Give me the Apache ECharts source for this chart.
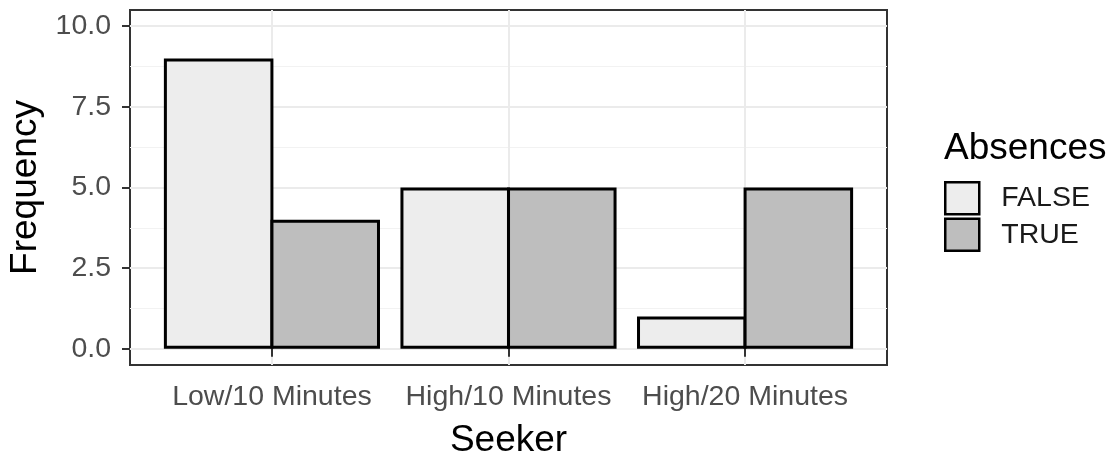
<!DOCTYPE html>
<html>
<head>
<meta charset="utf-8">
<script src="https://cdn.jsdelivr.net/npm/echarts@6/dist/echarts.min.js"></script>
<style>
  html, body { margin: 0; padding: 0; background: #fff; }
  #chart { width: 1115px; height: 458px; }
</style>
</head>
<body>
<div id="chart"></div>
<script>
var categories = ['Low/10 Minutes', 'High/10 Minutes', 'High/20 Minutes']
var falseValues = [9, 5, 1]
var trueValues = [4, 5, 5]
var yTicks = [0, 2.5, 5, 7.5, 10]
var yMinorTicks = [1.25, 3.75, 6.25, 8.75]
var xTicks = [1, 2, 3]

var font = 'Liberation Sans'

function toPoints(values) {
  return values.map(function (v, i) { return [xTicks[i], v] })
}

var chart = echarts.init(document.getElementById('chart'))
var option = {
  animation: false,
  textStyle: { fontFamily: font },
  title: {
    text: 'Absences',
    left: 944,
    top: 130,
    padding: 0,
    textStyle: { fontFamily: font, fontSize: 37, fontWeight: 'normal', color: '#000' }
  },
  legend: {
    data: ['FALSE', 'TRUE'],
    orient: 'vertical',
    left: 944,
    top: 181,
    padding: 0,
    itemWidth: 34,
    itemHeight: 32,
    itemGap: 2,
    icon: 'rect',
    itemStyle: { borderColor: '#000', borderWidth: 2.5 },
    textStyle: { fontFamily: font, fontSize: 28.5, color: '#1a1a1a', padding: [4, 0, 0, 17] }
  },
  grid: {
    left: 130,
    right: 228,
    top: 10,
    bottom: 93,
    outerBoundsMode: 'none',
    containLabel: false,
    show: true,
    borderColor: '#333',
    borderWidth: 2,
    backgroundColor: '#fff'
  },
  xAxis: {
    type: 'value',
    min: 0.4,
    max: 3.6,
    name: 'Seeker',
    nameLocation: 'middle',
    nameGap: 57,
    nameTextStyle: { fontFamily: font, fontSize: 37, color: '#000' },
    axisLine: { show: false },
    axisTick: { show: true, length: 8, customValues: xTicks, lineStyle: { color: '#333', width: 2 } },
    axisLabel: {
      customValues: xTicks,
      margin: 18,
      fontSize: 28.5,
      color: '#4d4d4d',
      formatter: function (v) { return categories[Math.round(v) - 1] }
    },
    splitLine: { show: true, lineStyle: { color: '#ebebeb', width: 2 } }
  },
  yAxis: [
    {
      type: 'value',
      min: -0.5,
      max: 10.5,
      name: 'Frequency',
      nameLocation: 'middle',
      nameRotate: 90,
      nameGap: 85,
      nameTextStyle: { fontFamily: font, fontSize: 37, color: '#000' },
      axisLine: { show: false },
      axisTick: { show: true, length: 8, customValues: yTicks, lineStyle: { color: '#333', width: 2 } },
      axisLabel: {
        customValues: yTicks,
        margin: 19,
        fontSize: 28.5,
        color: '#4d4d4d',
        formatter: function (v) { return v.toFixed(1) }
      },
      splitLine: { show: true, lineStyle: { color: '#ebebeb', width: 2 } }
    },
    {
      type: 'value',
      min: -0.5,
      max: 10.5,
      position: 'left',
      axisLine: { show: false },
      axisTick: { show: false, customValues: yMinorTicks },
      axisLabel: { show: false, customValues: yMinorTicks },
      splitLine: { show: true, lineStyle: { color: '#f2f2f2', width: 1 } }
    }
  ],
  series: [
    {
      name: 'FALSE',
      type: 'bar',
      barWidth: '46.3%',
      barGap: '-2.7%',
      itemStyle: { color: '#ededed', borderColor: '#000', borderWidth: 3 },
      data: toPoints(falseValues)
    },
    {
      name: 'TRUE',
      type: 'bar',
      barWidth: '46.3%',
      barGap: '-2.7%',
      itemStyle: { color: '#bebebe', borderColor: '#000', borderWidth: 3 },
      data: toPoints(trueValues)
    }
  ]
}
chart.setOption(option)
</script>
</body>
</html>
